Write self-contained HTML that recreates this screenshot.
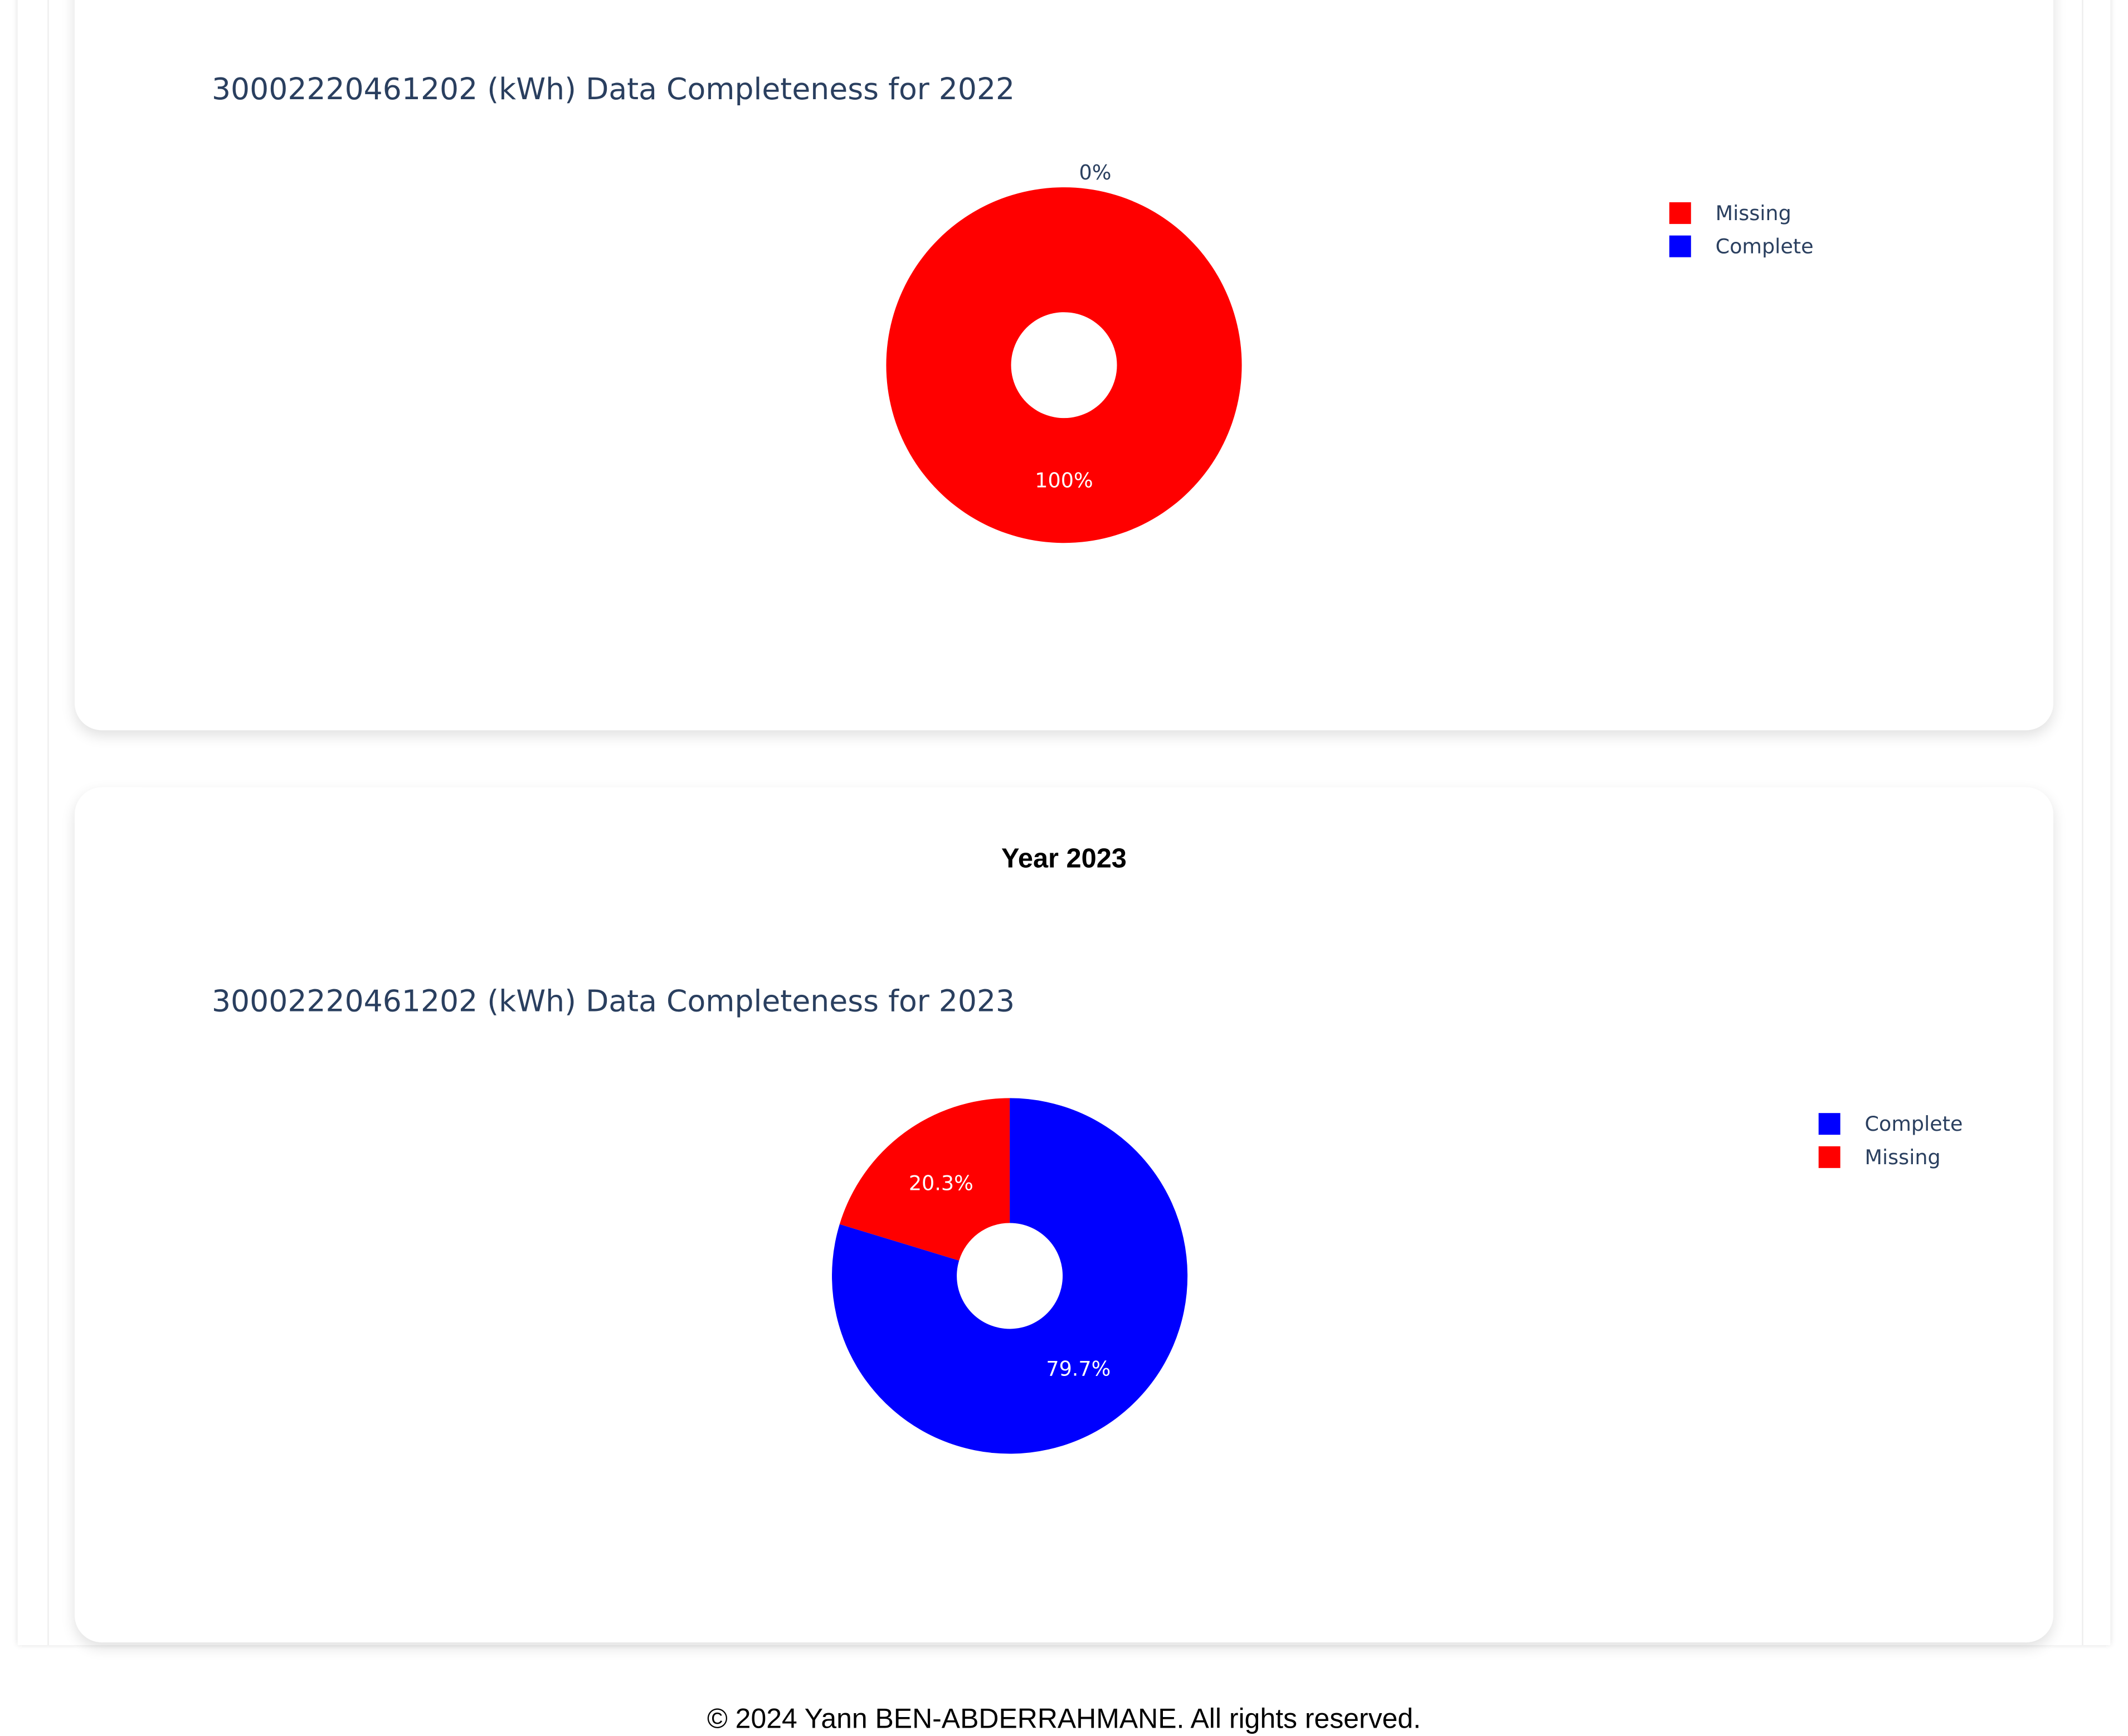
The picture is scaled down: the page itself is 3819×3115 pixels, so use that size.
<!DOCTYPE html>
<html><head><meta charset="utf-8"><style>
html,body{margin:0;padding:0;width:3819px;height:3096px;overflow:hidden;background:#fff}
#wrap{position:absolute;left:0;top:0;width:1568px;height:1271px;transform:scale(2.4356);transform-origin:0 0;font-family:"Liberation Sans",sans-serif}
.outer{position:absolute;left:13px;top:-20px;width:1542px;height:1232px;box-shadow:0 0 4px rgba(0,0,0,0.12);background:#fff}
.inner{position:absolute;left:35px;top:-20px;width:1498px;height:1232px;border-left:1px solid #eee;border-right:1px solid #eee;background:#fff}
.card{position:absolute;left:55px;width:1458px;background:#fff;border-radius:20px;box-shadow:0 4px 10px rgba(0,0,0,0.12)}
.title{position:absolute;left:101px;font-family:"DejaVu Sans",sans-serif;font-size:22px;color:#2a3f5f;white-space:nowrap}
.year{position:absolute;left:0;width:1458px;text-align:center;top:42px;font-weight:bold;font-size:20px;color:#000}
svg{position:absolute;left:0;top:0;overflow:visible}
.footer{position:absolute;left:0;width:1568px;text-align:center;top:1255px;font-size:20.5px;color:#000}
</style></head><body>
<div id="wrap">
<div class="outer"></div>
<div class="inner"></div>
<div class="card" style="top:-40px;height:578px">
  <div class="title" style="top:94px">30002220461202 (kWh) Data Completeness for 2022</div>
  <svg id="pie1" width="1458" height="578"></svg>
</div>
<div class="card" style="top:580px;height:630px">
  <div class="year">Year 2023</div>
  <div class="title" style="top:146px">30002220461202 (kWh) Data Completeness for 2023</div>
  <svg id="pie2" width="1458" height="630"></svg>
</div>
<div class="footer">© 2024 Yann BEN-ABDERRAHMANE. All rights reserved.</div>
</div>
<script>
const labels2022 = ["Missing", "Complete"];
const values2022 = [100, 0];
const colors2022 = ["#ff0000", "#0000ff"];
const labels2023 = ["Complete", "Missing"];
const values2023 = [79.7, 20.3];
const colors2023 = ["#0000ff", "#ff0000"];
const NS = "http://www.w3.org/2000/svg";
function mk(tag, attrs, parent){const e=document.createElementNS(NS,tag);for(const k in attrs)e.setAttribute(k,attrs[k]);parent.appendChild(e);return e;}
function drawPie(svgId, labels, values, colors, cx, cy, legX, legY){
  const svg=document.getElementById(svgId);
  const R=131, r=39, total=values.reduce((a,b)=>a+b,0);
  let acc=0;
  values.forEach((v,i)=>{
    const f=v/total, a0=acc*2*Math.PI, a1=(acc+f)*2*Math.PI;
    const name=labels[i].toLowerCase();
    if(f>=0.9999){
      const p=mk('path',{d:`M${cx} ${cy-R}A${R} ${R} 0 1 1 ${cx-0.01} ${cy-R}ZM${cx} ${cy-r}A${r} ${r} 0 1 0 ${cx+0.01} ${cy-r}Z`,fill:colors[i],'fill-rule':'evenodd'},svg);
      
      
    } else if(f>0){
      const pt=(rad,a)=>[cx+rad*Math.sin(a),cy-rad*Math.cos(a)];
      const [x0,y0]=pt(R,a0),[x1,y1]=pt(R,a1),[x2,y2]=pt(r,a1),[x3,y3]=pt(r,a0);
      const lg=f>0.5?1:0;
      const p=mk('path',{d:`M${x0} ${y0}A${R} ${R} 0 ${lg} 1 ${x1} ${y1}L${x2} ${y2}A${r} ${r} 0 ${lg} 0 ${x3} ${y3}Z`,fill:colors[i]},svg);
      
      
    }
    const am=(acc+f/2)*2*Math.PI;
    let lr=(R+r)/2, fill='#fff';
    if(f<0.05){lr=R+11;fill='#2a3f5f';}
    const t=mk('text',{x:cx+lr*Math.sin(am)+(f<0.05?23:0),y:cy-lr*Math.cos(am),'text-anchor':'middle','dominant-baseline':'central','font-family':'DejaVu Sans, sans-serif','font-size':'15',fill:fill},svg);
    t.textContent=(Math.round(f*1000)/10)+'%';
    
    
    acc+=f;
  });
  labels.forEach((l,i)=>{
    const g=mk('g',{},svg);
    
    
    mk('rect',{x:legX,y:legY+i*24.5-8,width:16,height:16,fill:colors[i]},g);
    const t=mk('text',{x:legX+34,y:legY+i*24.5,'dominant-baseline':'central','font-family':'DejaVu Sans, sans-serif','font-size':'15',fill:'#2a3f5f'},g);
    t.textContent=l;
  });
}
drawPie('pie1',labels2022,values2022,colors2022,729,309,1175,197);
drawPie('pie2',labels2023,values2023,colors2023,689,360,1285,248);
</script>
</body></html>
